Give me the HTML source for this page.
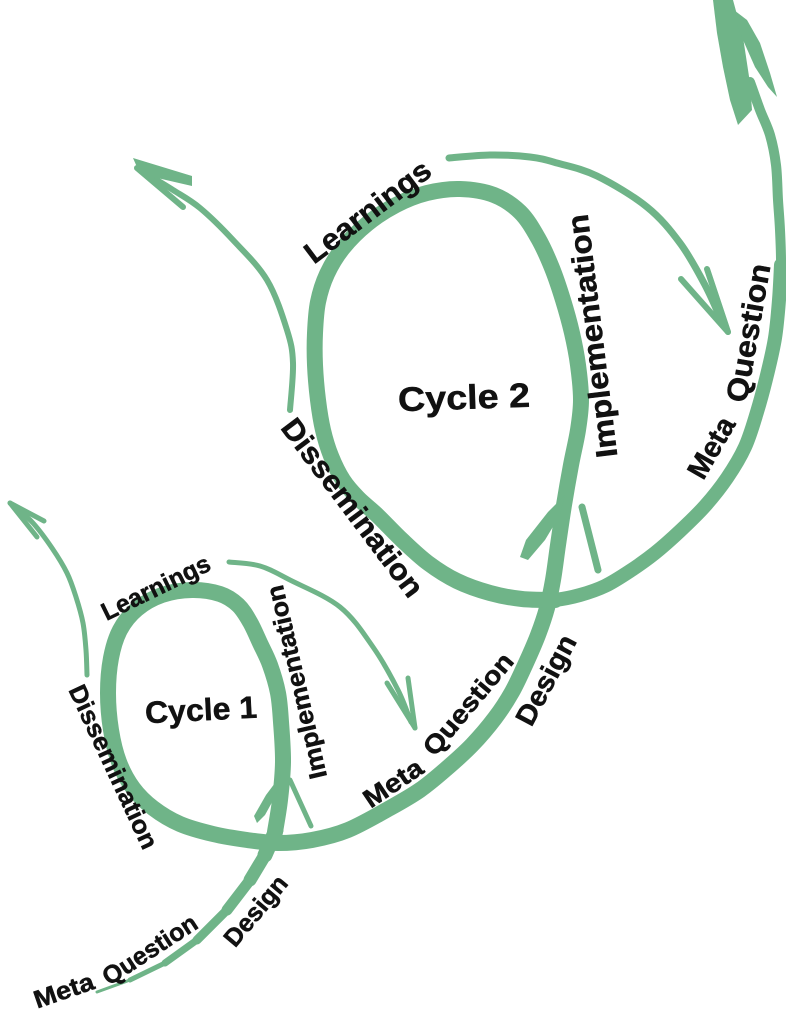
<!DOCTYPE html>
<html>
<head>
<meta charset="utf-8">
<style>
  html,body{margin:0;padding:0;background:#fff;}
  svg{display:block;}
  text{font-family:"Liberation Sans","DejaVu Sans",sans-serif;font-weight:bold;fill:#111;stroke:#111;stroke-width:0.5;}
</style>
</head>
<body>
<svg width="786" height="1024" viewBox="0 0 786 1024" xmlns="http://www.w3.org/2000/svg">
  <rect width="786" height="1024" fill="#fff"/>
  <g fill="none" stroke="#6fb488" stroke-linecap="round" stroke-linejoin="round">
    <!-- tail -->
    <path d="M97,992 L130,980" stroke-width="3"/>
    <path d="M130,980 L165,963" stroke-width="5"/>
    <path d="M165,963 L197,940" stroke-width="7"/>
    <path d="M197,940 L227,910" stroke-width="9"/>
    <path d="M227,910 L250,880" stroke-width="11"/>
    <path d="M250,880 L265,855" stroke-width="13"/>
    <path d="M265,855 L276,830" stroke-width="15"/>
    <!-- main loops -->
    <path class="s" stroke-width="16" d="M275,832 L280,800 L283,762 L281,722 L278,693 L270,665 L260,643 L250,622 L238,605 L220,594 L192,590 L162,595 L137,609 L120,630 L111,658 L108,693 L111,730 L119,762 L133,788 L153,808 L180,824 L213,834 L247,840 L278,843 L312,840 L348,830 L390,808 L420,790 L446,769 L472,745 L495,718 L512,692 L526,663 L538,635 L547,608 L553,580 L558,545 L564,505 L571,465 L578,430 L581,400 L578,365 L572,333 L563,300 L552,268 L538,238 L520,212 L494,195 L460,189 L427,193 L396,205 L367,224 L343,248 L327,274 L318,302 L315,333 L315,365 L318,400 L323,430 L331,456 L343,480 L358,498 L377,515 L402,540 L428,563 L457,581 L490,593 L522,599 L555,600"/>
    <!-- outer curve -->
    <path class="s" stroke-width="14" d="M540,600 L555,600 L580,595 L605,586 L630,571 L655,553 L680,531 L705,506 L727,478 L745,447 L757,412 L767,375 L775,338 L779,300 L781,265"/>
    <path class="s" stroke-width="10" d="M779,300 L781,265 L780,230 L778,200 L776,165 L770,135 L760,110 L750,82"/>
    <!-- thin arrows -->
    <path class="s" stroke-width="6" d="M290,410 L293,363 L287,330 L267,280 L233,240 L200,208 L173,190 L150,176"/>
    <path class="s" stroke-width="7" d="M449,158 L490,155 L530,157 L557,163 L597,176 L647,207 L680,243 L705,285 L722,322"/>
    <path class="s" stroke-width="5" d="M229,562 L260,566 L290,580 L340,607 L373,647 L398,690 L411,722"/>
    <path class="s" stroke-width="5" d="M87,675 L86,650 L83,623 L76,597 L67,573 L52,548 L33,523 L16,508"/>
    <!-- thin arrowheads -->
    <path d="M137,168 L183,207" stroke-width="6"/>
    <path d="M10,503 L44,521" stroke-width="5"/>
    <path d="M10,503 L37,537" stroke-width="5"/>
    <path d="M415,728 L387,683" stroke-width="5"/>
    <path d="M415,728 L408,678" stroke-width="5"/>
    <path d="M728,332 L681,279" stroke-width="6"/>
    <path d="M728,332 L707,269" stroke-width="6"/>
    <!-- loop arrowhead right barbs -->
    <path d="M290,780 L311,826" stroke-width="5"/>
    <path d="M582,507 L598,570" stroke-width="7"/>
  </g>
  <g fill="#6fb488" stroke="none">
    <polygon points="133,158 192,176 192,186 140,174"/>
    <polygon points="281,775 276,795 265,815 257,823 254,816 266,795"/>
    <polygon points="565,495 560,515 545,540 528,560 520,557 526,540 548,512"/>
    <!-- big arrowhead -->
    <polygon points="713,0 733,0 743,37 750,83 752,110 738,125 730,100 723,67 717,33"/>
    <polygon points="730,7 747,20 760,43 770,73 777,97 768,87 755,67 743,40"/>
  </g>

  <!-- Cycle 2 labels -->
  <text transform="translate(368,212) rotate(-37)" text-anchor="middle" dominant-baseline="central" font-size="30" textLength="150" lengthAdjust="spacingAndGlyphs">Learnings</text>
  <text transform="translate(593,336) rotate(-97)" text-anchor="middle" dominant-baseline="central" font-size="30" textLength="245" lengthAdjust="spacingAndGlyphs">Implementation</text>
  <text transform="translate(464,398) rotate(-2)" text-anchor="middle" dominant-baseline="central" font-size="34" textLength="132" lengthAdjust="spacingAndGlyphs">Cycle 2</text>
  <text transform="translate(352,508) rotate(53)" text-anchor="middle" dominant-baseline="central" font-size="30" textLength="215" lengthAdjust="spacingAndGlyphs">Dissemination</text>
  <text transform="translate(712,448) rotate(-60)" text-anchor="middle" dominant-baseline="central" font-size="29" textLength="66" lengthAdjust="spacingAndGlyphs">Meta</text>
  <text transform="translate(749,333) rotate(-80)" text-anchor="middle" dominant-baseline="central" font-size="30" textLength="140" lengthAdjust="spacingAndGlyphs">Question</text>

  <!-- Cycle 1 labels -->
  <text transform="translate(156,588) rotate(-26)" text-anchor="middle" dominant-baseline="central" font-size="25" textLength="118" lengthAdjust="spacingAndGlyphs">Learnings</text>
  <text transform="translate(297,682) rotate(-103)" text-anchor="middle" dominant-baseline="central" font-size="25" textLength="198" lengthAdjust="spacingAndGlyphs">Implementation</text>
  <text transform="translate(201,710) rotate(-3)" text-anchor="middle" dominant-baseline="central" font-size="31" textLength="112" lengthAdjust="spacingAndGlyphs">Cycle 1</text>
  <text transform="translate(113,767) rotate(65)" text-anchor="middle" dominant-baseline="central" font-size="25" textLength="178" lengthAdjust="spacingAndGlyphs">Dissemination</text>

  <!-- middle connector labels -->
  <text transform="translate(393,783) rotate(-34)" text-anchor="middle" dominant-baseline="central" font-size="26" textLength="66" lengthAdjust="spacingAndGlyphs">Meta</text>
  <text transform="translate(468,704) rotate(-50)" text-anchor="middle" dominant-baseline="central" font-size="26" textLength="125" lengthAdjust="spacingAndGlyphs">Question</text>
  <text transform="translate(546,680) rotate(-62)" text-anchor="middle" dominant-baseline="central" font-size="28" textLength="98" lengthAdjust="spacingAndGlyphs">Design</text>

  <!-- bottom labels -->
  <text transform="translate(64,991) rotate(-19)" text-anchor="middle" dominant-baseline="central" font-size="25" textLength="62" lengthAdjust="spacingAndGlyphs">Meta</text>
  <text transform="translate(150,950) rotate(-33)" text-anchor="middle" dominant-baseline="central" font-size="25" textLength="108" lengthAdjust="spacingAndGlyphs">Question</text>
  <text transform="translate(256,911) rotate(-50)" text-anchor="middle" dominant-baseline="central" font-size="25" textLength="84" lengthAdjust="spacingAndGlyphs">Design</text>
</svg>
<script>
document.querySelectorAll('path.s').forEach(function(p){
  var n=p.getAttribute('d').match(/-?[\d.]+/g).map(Number);
  var pts=[];for(var i=0;i<n.length;i+=2)pts.push([n[i],n[i+1]]);
  var d='M'+pts[0][0]+','+pts[0][1];
  for(var i=0;i<pts.length-1;i++){
    var p0=pts[i-1]||pts[i],p1=pts[i],p2=pts[i+1],p3=pts[i+2]||p2;
    var c1=[p1[0]+(p2[0]-p0[0])/6,p1[1]+(p2[1]-p0[1])/6];
    var c2=[p2[0]-(p3[0]-p1[0])/6,p2[1]-(p3[1]-p1[1])/6];
    d+='C'+c1[0]+','+c1[1]+' '+c2[0]+','+c2[1]+' '+p2[0]+','+p2[1];
  }
  p.setAttribute('d',d);
});
</script>
</body>
</html>
